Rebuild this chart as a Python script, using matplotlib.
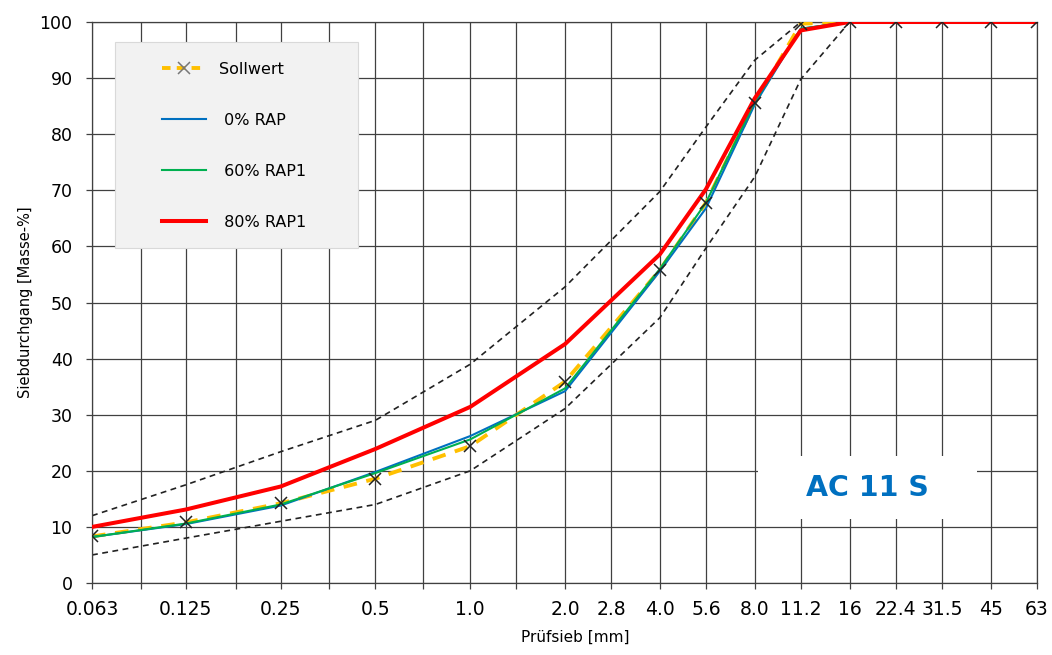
import matplotlib
matplotlib.use("Agg")
import matplotlib.pyplot as plt
from matplotlib.patches import Rectangle
from matplotlib.lines import Line2D
from matplotlib.ticker import FixedLocator, NullFormatter

# Sieve sizes [mm] and passing percentages [Masse-%]
sieves = [0.063, 0.125, 0.25, 0.5, 1.0, 2.0, 4.0, 5.6, 8.0, 11.2, 16, 22.4, 31.5, 45, 63]
sollwert = [8.3, 10.8, 14.2, 18.6, 24.4, 35.9, 55.8, 67.8, 85.5, 99.7, 100, 100, 100, 100, 100]
rap0 = [8.2, 10.5, 13.8, 19.8, 26.2, 34.2, 55.6, 66.8, 85.3, 98.8, 100, 100, 100, 100, 100]
rap60 = [8.2, 10.6, 14.0, 19.6, 25.6, 34.7, 56.0, 67.8, 85.8, 98.8, 100, 100, 100, 100, 100]
rap80 = [10.0, 13.1, 17.2, 23.9, 31.4, 42.6, 58.6, 70.2, 86.4, 98.5, 100, 100, 100, 100, 100]

# Grading envelope
limit_sieves = [0.063, 0.125, 0.25, 0.5, 1.0, 2.0, 4.0, 5.6, 8.0, 11.2, 16]
upper_limit = [12.0, 17.5, 23.4, 29.0, 39.0, 52.8, 69.8, 81.3, 93.2, 100, 100]
lower_limit = [5.0, 8.0, 11.0, 14.0, 20.0, 31.1, 47.3, 59.7, 72.4, 89.8, 100]

# Axis ticks
tick_sieves = [0.063, 0.125, 0.25, 0.5, 1.0, 2.0, 2.8, 4.0, 5.6, 8.0, 11.2, 16, 22.4, 31.5, 45, 63]
tick_labels = ["0.063", "0.125", "0.25", "0.5", "1.0", "2.0", "2.8", "4.0", "5.6",
               "8.0", "11.2", "16", "22.4", "31.5", "45", "63"]
minor_sieves = [0.09, 0.18, 0.355, 0.71, 1.4]
y_ticks = [0, 10, 20, 30, 40, 50, 60, 70, 80, 90, 100]

plt.rcParams["font.family"] = ["DejaVu Sans"]

fig = plt.figure(figsize=(10.52, 6.55), dpi=100)
ax = fig.add_axes([0.0875, 0.1099, 0.8983, 0.8565])

grid_c = "#404040"
ax.set_xscale("log")
ax.set_xlim(0.063, 63)
ax.set_ylim(0, 100)
ax.xaxis.set_major_locator(FixedLocator(tick_sieves))
ax.set_xticklabels(tick_labels)
ax.xaxis.set_minor_locator(FixedLocator(minor_sieves))
ax.xaxis.set_minor_formatter(NullFormatter())
ax.set_yticks(y_ticks)
ax.set_axisbelow(True)
ax.grid(True, which="both", color=grid_c, lw=0.9)
ax.tick_params(which="both", direction="out", length=4, width=0.9, color=grid_c)
ax.tick_params(axis="x", labelsize=13.5, pad=8)
ax.tick_params(axis="y", labelsize=12.5, pad=10)
for sp in ax.spines.values():
    sp.set_color(grid_c)
    sp.set_linewidth(0.9)

# Envelope curves
ax.plot(limit_sieves, upper_limit, color="#222222", lw=1.2, dashes=(3.5, 2.7), zorder=2)
ax.plot(limit_sieves, lower_limit, color="#222222", lw=1.2, dashes=(3.5, 2.7), zorder=2)

# Target grading and mixtures
sw_color = "#FFC000"
ax.plot(sieves, sollwert, color=sw_color, lw=2.8, dashes=(3.5, 2.5), zorder=3)
ax.plot(sieves, rap0, color="#0070C0", lw=1.5, zorder=4)
ax.plot(sieves, rap60, color="#00B050", lw=1.5, zorder=5)
ax.plot(sieves, rap80, color="#FF0000", lw=2.9, zorder=6)
ax.plot(sieves, sollwert, ls="none", marker="x", ms=8, mew=1.1, color="#222222", zorder=7)

# Mix type label on a white panel
ax.add_patch(Rectangle((0.705, 0.114), 0.2315, 0.112, transform=ax.transAxes,
                       facecolor="white", edgecolor="none", zorder=1))
ax.text(0.820, 0.169, "AC 11 S", transform=ax.transAxes, ha="center", va="center",
        fontsize=20.5, fontweight="bold", color="#0070C0", zorder=8)

# Legend panel
ax.add_patch(Rectangle((0.0243, 0.597), 0.2572, 0.3673, transform=ax.transAxes,
                       facecolor="#F2F2F2", edgecolor="#D9D9D9", lw=0.8, zorder=9))
handles = [
    Line2D([], [], color=sw_color, lw=2.8, dashes=(2.2, 1.6), marker="x", ms=8,
           mew=1.1, mec="#777777"),
    Line2D([], [], color="#0070C0", lw=1.5),
    Line2D([], [], color="#00B050", lw=1.5),
    Line2D([], [], color="#FF0000", lw=2.9),
]
labels = ["Sollwert", " 0% RAP", " 60% RAP1", " 80% RAP1"]
leg = ax.legend(handles, labels, loc="upper left", bbox_to_anchor=(0.0741, 0.929),
                frameon=False, borderpad=0, borderaxespad=0, fontsize=11.5,
                handlelength=2.75, handletextpad=0.8, labelspacing=2.25, numpoints=1)
leg.set_zorder(10)

ax.set_ylabel("Siebdurchgang [Masse-%]", fontsize=10.5)
ax.yaxis.set_label_coords(-0.0625, 0.5)
ax.set_xlabel("Prüfsieb [mm]", fontsize=11)
ax.xaxis.set_label_coords(0.511, -0.084)

fig.savefig("out.png", dpi=100)
